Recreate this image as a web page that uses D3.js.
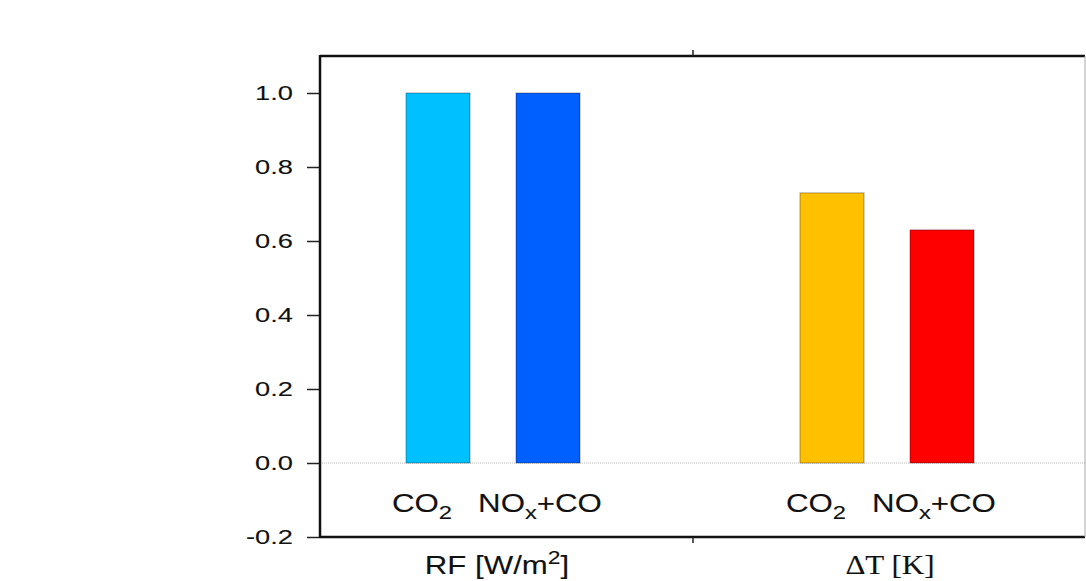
<!DOCTYPE html>
<html>
<head>
<meta charset="utf-8">
<script src="https://cdn.jsdelivr.net/npm/d3@7"></script>
<style>
  body { margin: 0; background: #fff; }
  text { font-family: "Liberation Sans", Arial, sans-serif; fill: #111; stroke: #111; stroke-width: 0.1px; }
  .serif { font-family: "Liberation Serif", "Times New Roman", serif; }
</style>
</head>
<body>
<svg id="chart" width="1086" height="581"></svg>
<script>
// data
const groups = ["RF", "dT"];
const groupTitles = ["RF [W/m²]", "ΔT [K]"];
const series = ["CO2", "NOx+CO"];
const rfValues = [1.0, 1.0];
const dtValues = [0.73, 0.63];
const barColors = [["#00C0FF", "#0060FF"], ["#FFC000", "#FF0000"]];
const yTicks = [-0.2, 0.0, 0.2, 0.4, 0.6, 0.8, 1.0];

const svg = d3.select("#chart");
const frame = { left: 320, right: 1085, top: 56, bottom: 537 };
const stretch = 1.3; // the source picture is widened a little

// scales
let y = d3.scaleLinear()
  .domain([-0.2, 1.1])
  .range([frame.bottom, frame.top]);

let xGroup = d3.scalePoint()
  .domain(groups)
  .range([493, 887]);

let xSub = d3.scaleBand()
  .domain(series)
  .range([-110, 110])
  .paddingInner(0.418)
  .paddingOuter(0.209);

// text holder that is stretched sideways
function wideText(x, yPos, sx) {
  return svg.append("g")
    .attr("transform", `translate(${x},${yPos}) scale(${sx},1)`)
    .append("text")
    .attr("text-anchor", "middle");
}

// zero line (dotted)
svg.append("line")
  .attr("x1", frame.left).attr("x2", frame.right)
  .attr("y1", y(0)).attr("y2", y(0))
  .attr("stroke", "#bbb")
  .attr("stroke-width", 1)
  .attr("stroke-dasharray", "1,1");

// bars
let rows = [];
groups.forEach((g, gi) => {
  let vals = gi === 0 ? rfValues : dtValues;
  series.forEach((s, si) => {
    rows.push({ group: g, name: s, value: vals[si], color: barColors[gi][si] });
  });
});

svg.selectAll("rect.bar")
  .data(rows)
  .enter().append("rect")
  .attr("class", "bar")
  .attr("x", d => xGroup(d.group) + xSub(d.name))
  .attr("y", d => y(d.value))
  .attr("width", xSub.bandwidth())
  .attr("height", d => y(0) - y(d.value))
  .attr("fill", d => d.color)
  .attr("stroke", "#000")
  .attr("stroke-opacity", 0.35)
  .attr("stroke-width", 1);

// y axis
const fmt = d3.format(".1f");
const yAxis = d3.axisLeft(y)
  .tickValues(yTicks)
  .tickFormat(d => fmt(d).replace("−", "-"))
  .tickSize(13)
  .tickPadding(14);

let yg = svg.append("g")
  .attr("transform", `translate(${frame.left},0)`)
  .call(yAxis);
yg.select(".domain").remove();
yg.selectAll(".tick line").attr("stroke", "#222").attr("stroke-width", 1.5);
yg.selectAll(".tick text")
  .attr("font-size", null)
  .style("font-size", "21px")
  .style("font-family", "Liberation Sans, Arial, sans-serif")
  .attr("fill", "#111")
  .attr("x", -27 / stretch)
  .attr("transform", `scale(${stretch},1)`);

// frame
svg.append("line")
  .attr("x1", frame.left).attr("x2", frame.right)
  .attr("y1", frame.top).attr("y2", frame.top)
  .attr("stroke", "#111").attr("stroke-width", 2.5);
svg.append("line")
  .attr("x1", frame.left).attr("x2", frame.right)
  .attr("y1", frame.bottom).attr("y2", frame.bottom)
  .attr("stroke", "#111").attr("stroke-width", 2.5);
svg.append("line")
  .attr("x1", frame.left).attr("x2", frame.left)
  .attr("y1", frame.top - 1).attr("y2", frame.bottom + 1)
  .attr("stroke", "#111").attr("stroke-width", 2.5);
svg.append("line")
  .attr("x1", frame.right).attr("x2", frame.right)
  .attr("y1", frame.top).attr("y2", frame.bottom)
  .attr("stroke", "#aaa").attr("stroke-width", 1);

// middle ticks (group divider)
const midX = 693;
svg.append("line")
  .attr("x1", midX).attr("x2", midX)
  .attr("y1", frame.top).attr("y2", frame.top - 6)
  .attr("stroke", "#222").attr("stroke-width", 1.5);
svg.append("line")
  .attr("x1", midX).attr("x2", midX)
  .attr("y1", frame.bottom).attr("y2", frame.bottom + 6)
  .attr("stroke", "#222").attr("stroke-width", 1.5);

// category labels under bars
const labelShift = { "CO2": -16, "NOx+CO": -8 };
rows.forEach(d => {
  let cx = xGroup(d.group) + xSub(d.name) + xSub.bandwidth() / 2 + labelShift[d.name];
  let t = wideText(cx, 512, 1.25).style("font-size", "25px");
  if (d.name === "CO2") {
    t.append("tspan").text("CO");
    t.append("tspan").text("2").attr("dy", 7).style("font-size", "19px");
  } else {
    t.append("tspan").text("NO");
    t.append("tspan").text("x").attr("dy", 7).style("font-size", "19px");
    t.append("tspan").text("+CO").attr("dy", -7);
  }
});

// group titles
wideText(xGroup("RF") + 4, 574, 1.2)
  .style("font-size", "26px")
  .call(t => {
    t.append("tspan").text("RF [W/m");
    t.append("tspan").text("2").attr("dy", -10).style("font-size", "19px");
    t.append("tspan").text("]").attr("dy", 10);
  });

wideText(xGroup("dT") + 3, 574, 1.15)
  .attr("class", "serif")
  .style("font-size", "27px")
  .text(groupTitles[1]);
</script>
</body>
</html>
